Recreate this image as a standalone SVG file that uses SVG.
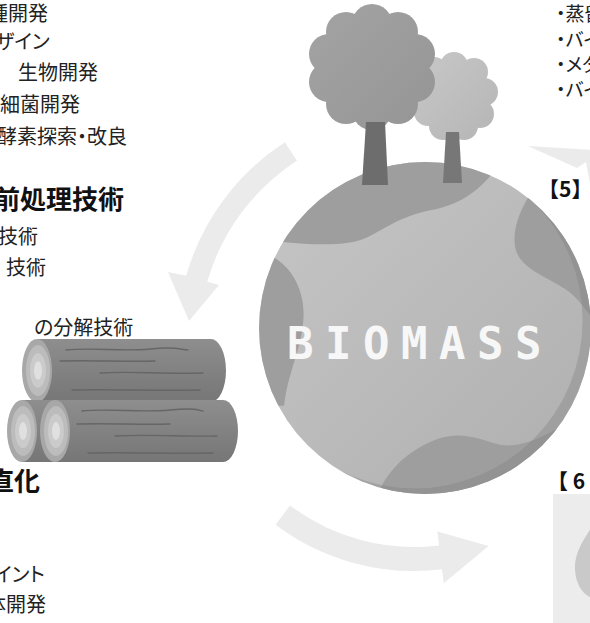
<svg xmlns="http://www.w3.org/2000/svg" width="590" height="623" viewBox="0 0 590 623">
  <defs>
    <style>
      .txt { font-family: "Noto Sans CJK JP", "Noto Sans", sans-serif; font-size: 20px; fill: #222; font-feature-settings: "palt"; }
      .side { font-family: "Noto Sans CJK JP", "Noto Sans", sans-serif; font-size: 19px; fill: #222; font-feature-settings: "palt"; }
      .head { font-family: "Noto Sans CJK JP", "Noto Sans", sans-serif; font-size: 26px; font-weight: bold; fill: #111; }
      .label { font-family: "Noto Sans CJK JP", "DejaVu Sans", sans-serif; font-size: 21px; font-weight: bold; fill: #111; }
      .cycle { fill: #ebebeb; }
      .land { fill: #9e9e9e; }
      .grain { fill: none; stroke: #666; stroke-width: 1.4; stroke-linecap: round; }
    </style>
    <linearGradient id="globeFill" x1="0" y1="0" x2="1" y2="1">
      <stop offset="0" stop-color="#c6c6c6"/>
      <stop offset="1" stop-color="#afafaf"/>
    </linearGradient>
    <linearGradient id="bigLeaf" gradientUnits="userSpaceOnUse" x1="310" y1="10" x2="435" y2="130">
      <stop offset="0" stop-color="#a3a3a3"/>
      <stop offset="1" stop-color="#959595"/>
    </linearGradient>
    <linearGradient id="smallLeaf" gradientUnits="userSpaceOnUse" x1="410" y1="50" x2="500" y2="140">
      <stop offset="0" stop-color="#c8c8c8"/>
      <stop offset="1" stop-color="#b5b5b5"/>
    </linearGradient>
    <linearGradient id="logBody" x1="0" y1="0" x2="0" y2="1">
      <stop offset="0" stop-color="#8e8e8e"/>
      <stop offset="1" stop-color="#767676"/>
    </linearGradient>
    <clipPath id="globeClip">
      <circle cx="414" cy="341" r="179"/>
    </clipPath>
    <g id="logEnd">
      <ellipse cx="0" cy="0" rx="15" ry="31" fill="#a8a8a8"/>
      <ellipse cx="1" cy="0" rx="12" ry="25" fill="#bcbcbc"/>
      <ellipse cx="1" cy="0" rx="8" ry="17" fill="#cbcbcb"/>
      <ellipse cx="1" cy="0" rx="4" ry="9" fill="#e0e0e0"/>
    </g>
  </defs>

  <rect width="590" height="623" fill="#ffffff"/>

  <!-- cycle arrows around the globe -->
  <g id="connectors">
    <path class="cycle" d="M284.9 142.2 A237 237 0 0 0 186.2 275.7 L168 272 L189 321 L219 285 L207.3 281.7 A215 215 0 0 1 296.9 160.7 Z"/>
    <path class="cycle" d="M275.6 524.7 A230 230 0 0 0 442.0 569.3 L443.7 583.2 L488.6 545.9 L437.4 531.6 L439.1 545.5 A206 206 0 0 1 290.0 505.5 Z"/>
    <path class="cycle" d="M528 146 L596 150 L596 190 L590 184 L586 162 L577 168 Z"/>
  </g>

  <!-- globe (drawn in a 179 px frame, scaled into place) -->
  <g id="globe">
    <g transform="translate(425 328) scale(0.927) translate(-414 -341)">
      <circle cx="414" cy="341" r="179" fill="url(#globeFill)"/>
      <g clip-path="url(#globeClip)">
        <path class="land" d="M230 244 C280 252 330 254 350 244 C370 235 385 221 420 214 C450 208 470 196 490 170 L490 150 L230 150 Z"/>
        <path class="land" d="M230 258 C262 262 284 292 283 328 C282 362 266 388 262 425 L230 425 Z"/>
        <path class="land" d="M532 190 C512 218 503 250 518 268 C533 286 563 292 579 311 C589 323 594 330 600 336 L620 336 L620 190 Z"/>
        <path class="land" d="M356 540 C366 502 390 474 430 460 C455 452 475 462 495 467 C515 471 542 460 580 436 L600 560 L356 560 Z"/>
        <path d="M200 120 H640 V560 H200 Z M403 333 m-181 0 a181 181 0 1 0 362 0 a181 181 0 1 0 -362 0 Z" fill="#7f7f7f" fill-opacity="0.35" fill-rule="evenodd"/>
      </g>
    </g>
    <text x="287" y="359" font-family="DejaVu Sans Mono, monospace" font-size="44" font-weight="bold" letter-spacing="11.5" fill="#f7f7f7">BIOMASS</text>
  </g>

  <!-- trees on top of the globe -->
  <g id="small-tree">
    <g fill="url(#smallLeaf)">
      <circle cx="454" cy="96" r="32"/>
      <circle cx="454" cy="66" r="14"/>
      <circle cx="474" cy="72" r="14"/>
      <circle cx="484" cy="92" r="14"/>
      <circle cx="480" cy="114" r="14"/>
      <circle cx="464" cy="126" r="14"/>
      <circle cx="443" cy="126" r="14"/>
      <circle cx="428" cy="112" r="14"/>
      <circle cx="424" cy="91" r="14"/>
      <circle cx="434" cy="71" r="14"/>
    </g>
    <path d="M446 132 H459 L462 183 H443 Z" fill="#777"/>
  </g>
  <g id="big-tree">
    <g fill="url(#bigLeaf)">
      <circle cx="372" cy="67" r="50"/>
      <circle cx="372" cy="24" r="20"/>
      <circle cx="398" cy="32" r="20"/>
      <circle cx="415" cy="54" r="20"/>
      <circle cx="415" cy="82" r="20"/>
      <circle cx="398" cy="104" r="20"/>
      <circle cx="372" cy="110" r="20"/>
      <circle cx="346" cy="104" r="20"/>
      <circle cx="329" cy="82" r="20"/>
      <circle cx="329" cy="54" r="20"/>
      <circle cx="346" cy="32" r="20"/>
    </g>
    <path d="M366 122 H385 L388 185 H362 Z" fill="#6d6d6d"/>
  </g>

  <!-- stacked logs -->
  <g id="logs" transform="translate(0 -27)">
    <path d="M37 366 H211 A15 31.5 0 0 1 211 429 H37 Z" fill="url(#logBody)"/>
    <use href="#logEnd" transform="translate(37 397.5) scale(1 1.02)"/>
    <path class="grain" d="M66 377 C95 374 120 379 150 376 S180 377 188 377"/>
    <path class="grain" d="M60 388 C90 387 125 389 155 388"/>
    <path class="grain" d="M100 400 C130 398 160 401 203 400"/>
    <path class="grain" d="M72 417 C110 416 160 418 200 417"/>

    <path d="M22 427 H60 V489 H22 Z" fill="url(#logBody)"/>
    <use href="#logEnd" transform="translate(22 458)"/>
    <path d="M55 427 H223 A15 31 0 0 1 223 489 H55 Z" fill="url(#logBody)"/>
    <use href="#logEnd" transform="translate(55 458)"/>
    <path class="grain" d="M82 438 C110 435 140 440 170 437 S198 438 203 438"/>
    <path class="grain" d="M77 451 C110 450 140 452 170 451"/>
    <path class="grain" d="M115 463 C150 461 185 464 217 463"/>
    <path class="grain" d="M88 480 C130 479 170 481 213 480"/>
  </g>

  <!-- left text columns -->
  <g id="list-breeding">
    <text class="txt" x="-12" y="21">種開発</text>
    <text class="txt" x="-5" y="49">ザイン</text>
    <text class="txt" x="18" y="80">生物開発</text>
    <text class="txt" x="0" y="112">細菌開発</text>
    <text class="txt" x="-3" y="144">酵素探索・改良</text>
  </g>
  <g id="list-pretreatment">
    <text class="head" x="-6" y="209">前処理技術</text>
    <text class="txt" x="-2" y="244">技術</text>
    <text class="txt" x="6" y="275">技術</text>
    <text class="txt" x="34" y="335">の分解技術</text>
  </g>
  <g id="list-conversion">
    <text class="head" x="-12" y="491">直化</text>
    <text class="txt" x="-6" y="582">イント</text>
    <text class="txt" x="-14" y="612">体開発</text>
  </g>

  <!-- right text columns -->
  <g id="list-products">
    <text class="side" x="556" y="21">・蒸留</text>
    <text class="side" x="556" y="47">・バイ</text>
    <text class="side" x="556" y="72">・メタ</text>
    <text class="side" x="556" y="97">・バイ</text>
  </g>
  <g id="step-5">
    <text class="label" x="538" y="197">【5】</text>
  </g>
  <g id="step-6">
    <text class="label" x="547" y="489">【 6</text>
    <rect x="553" y="494" width="40" height="131" fill="#ececec"/>
    <path d="M592 526 C584 540 574 552 575 570 C576 586 584 595 592 598 Z" fill="#c9c9c9"/>
  </g>
</svg>
